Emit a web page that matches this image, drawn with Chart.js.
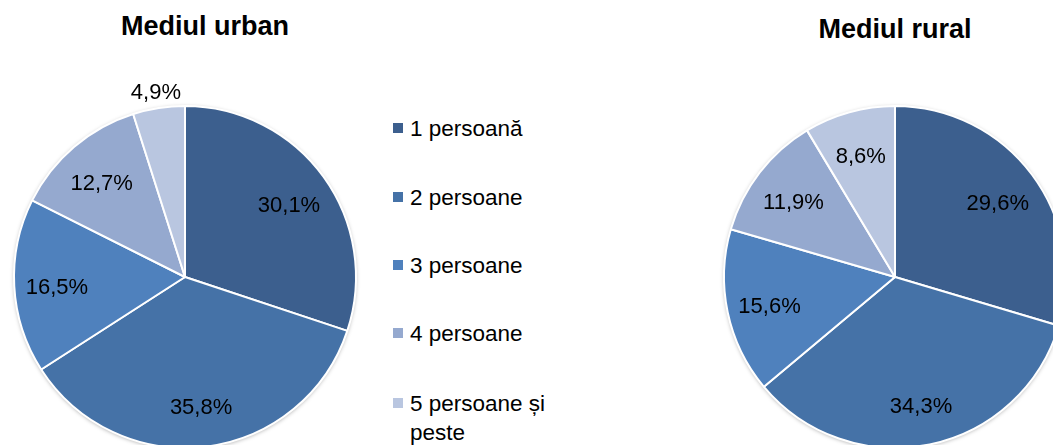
<!DOCTYPE html>
<html>
<head>
<meta charset="utf-8">
<script src="https://cdn.jsdelivr.net/npm/chart.js@4.4.0/dist/chart.umd.min.js"></script>
<style>
  body { margin: 0; width: 1053px; height: 445px; overflow: hidden; position: relative; background: #fff;
         font-family: "Liberation Sans", Arial, sans-serif; }
  .box { position: absolute; width: 400px; height: 400px; }
  .title { position: absolute; font-weight: bold; font-size: 27px; color: #000; transform: translateX(-50%); white-space: nowrap; }
  #legend { position: absolute; left: 393px; top: 0; }
  .item { position: absolute; left: 0; font-size: 22.5px; line-height: 29px; color: #000; white-space: nowrap; }
  .item span.sw { position: absolute; left: 0; top: 9px; width: 10px; height: 10px; }
  .item span.tx { position: absolute; left: 17px; top: 0; }
</style>
</head>
<body>
<div class="title" style="left:205px; top:11px;">Mediul urban</div>
<div class="title" style="left:895px; top:14px;">Mediul rural</div>
<div class="box" style="left:-15px; top:77px;"><canvas id="chart-urban"></canvas></div>
<div class="box" style="left:695px; top:77px;"><canvas id="chart-rural"></canvas></div>
<div id="legend"></div>

<script>
const categories = ['1 persoană', '2 persoane', '3 persoane', '4 persoane', '5 persoane și peste'];
const urbanValues = [30.1, 35.8, 16.5, 12.7, 4.9];
const ruralValues = [29.6, 34.3, 15.6, 11.9, 8.6];
const colors = ['#3C5F8E', '#4572A7', '#4F81BD', '#95A9CF', '#B9C6E0'];

// legend rows (html), built from the categories
const legendTops = [114, 183, 251, 319, 389];
const legend = document.getElementById('legend');
categories.forEach((cat, i) => {
  const row = document.createElement('div');
  row.className = 'item';
  row.style.top = legendTops[i] + 'px';
  const sw = document.createElement('span');
  sw.className = 'sw';
  sw.style.background = colors[i];
  const tx = document.createElement('span');
  tx.className = 'tx';
  tx.innerHTML = i === 4 ? '5 persoane și<br>peste' : cat;
  row.appendChild(sw);
  row.appendChild(tx);
  legend.appendChild(row);
});

// percentage labels on the slices
const pctLabels = {
  id: 'pctLabels',
  afterDatasetsDraw(chart) {
    const ctx = chart.ctx;
    const meta = chart.getDatasetMeta(0);
    const values = chart.data.datasets[0].data;
    ctx.save();
    ctx.font = '22px "Liberation Sans", Arial, sans-serif';
    ctx.fillStyle = '#000';
    ctx.textAlign = 'center';
    ctx.textBaseline = 'middle';
    meta.data.forEach((arc, i) => {
      const p = arc.getProps(['x', 'y', 'startAngle', 'endAngle', 'outerRadius']);
      const mid = (p.startAngle + p.endAngle) / 2;
      const dist = values[i] < 6 ? p.outerRadius + 19 : p.outerRadius * 0.75;
      const x = p.x + Math.cos(mid) * dist;
      const y = p.y + Math.sin(mid) * dist + 4;
      ctx.fillText(values[i].toFixed(1).replace('.', ',') + '%', x, y);
    });
    ctx.restore();
  }
};

// soft shadow behind the pie
const pieShadow = {
  id: 'pieShadow',
  beforeDatasetsDraw(chart) {
    const arc = chart.getDatasetMeta(0).data[0];
    if (!arc) return;
    const ctx = chart.ctx;
    ctx.save();
    ctx.shadowColor = 'rgba(0,0,0,0.35)';
    ctx.shadowBlur = 4;
    ctx.shadowOffsetY = 1;
    ctx.beginPath();
    ctx.arc(arc.x, arc.y, arc.outerRadius, 0, Math.PI * 2);
    ctx.fillStyle = '#fff';
    ctx.fill();
    ctx.restore();
  }
};

function makePie(id, values) {
  new Chart(document.getElementById(id), {
    type: 'pie',
    data: {
      labels: categories,
      datasets: [{
        data: values,
        backgroundColor: colors,
        borderColor: '#fff',
        borderWidth: 2,
        hoverOffset: 0
      }]
    },
    options: {
      responsive: true,
      maintainAspectRatio: false,
      animation: false,
      layout: { padding: 28 },
      plugins: {
        legend: { display: false },
        tooltip: { enabled: false }
      }
    },
    plugins: [pieShadow, pctLabels]
  });
}

makePie('chart-urban', urbanValues);
makePie('chart-rural', ruralValues);
</script>
</body>
</html>
